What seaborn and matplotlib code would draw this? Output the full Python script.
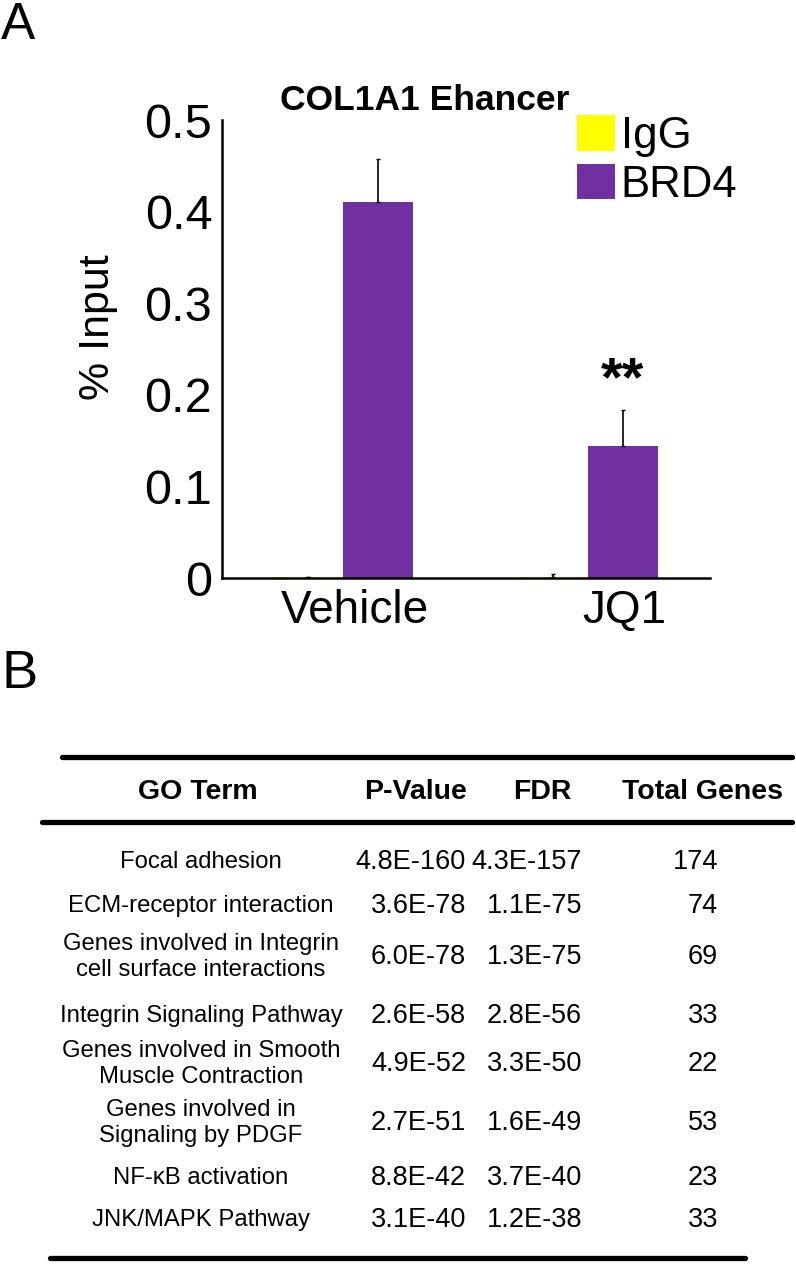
import numpy as np
import pandas as pd
import matplotlib
matplotlib.use('Agg')
import matplotlib.pyplot as plt
from matplotlib.lines import Line2D
import seaborn as sns

# panel A data
groups = ['Vehicle', 'JQ1']
antibodies = ['IgG', 'BRD4']
igg_vals = [0.001, 0.001]
brd4_vals = [0.410, 0.144]
igg_err = [0.0, 0.003]
brd4_err = [0.047, 0.039]
colors = {'IgG': '#ffff00', 'BRD4': '#7030a0'}

# panel B table
header = ['GO Term', 'P-Value', 'FDR', 'Total Genes']
go_terms = ['Focal adhesion', 'ECM-receptor interaction',
            'Genes involved in Integrin\ncell surface interactions',
            'Integrin Signaling Pathway',
            'Genes involved in Smooth\nMuscle Contraction',
            'Genes involved in\nSignaling by PDGF',
            'NF-\u03baB activation', 'JNK/MAPK Pathway']
p_values = ['4.8E-160', '3.6E-78', '6.0E-78', '2.6E-58', '4.9E-52', '2.7E-51', '8.8E-42', '3.1E-40']
fdr_values = ['4.3E-157', '1.1E-75', '1.3E-75', '2.8E-56', '3.3E-50', '1.6E-49', '3.7E-40', '1.2E-38']
total_genes = ['174', '74', '69', '33', '22', '53', '23', '33']

sns.set_style('white')
plt.rcParams['font.family'] = ['Liberation Sans', 'DejaVu Sans']
for k in ['text.color', 'axes.labelcolor', 'xtick.color', 'ytick.color']:
    plt.rcParams[k] = 'black'

W, H = 796, 1264
fig = plt.figure(figsize=(W / 100, H / 100), dpi=100)

df = pd.DataFrame({
    'group': groups * 2,
    'antibody': ['IgG'] * 2 + ['BRD4'] * 2,
    'value': igg_vals + brd4_vals,
    'err': igg_err + brd4_err,
})

ax = fig.add_axes([222 / W, 1 - 578 / H, (710 - 222) / W, (578 - 120) / H])
sns.barplot(data=df, x='group', y='value', hue='antibody', hue_order=antibodies,
            palette=colors, width=0.571, ax=ax, errorbar=None, saturation=1,
            linewidth=0, legend=True)
for patch_group, ab in zip(ax.containers, antibodies):
    sub = df[df['antibody'] == ab]
    xs = [b.get_x() + b.get_width() / 2 for b in patch_group]
    ax.errorbar(xs, sub['value'], yerr=[np.zeros(len(sub)), sub['err']],
                fmt='none', ecolor='black', elinewidth=1.2, capsize=1.5)

ax.set_ylim(0, 0.5)
ax.set_xlim(-0.494, 1.498)
ax.set_yticks([0, 0.1, 0.2, 0.3, 0.4, 0.5])
ax.set_yticklabels(['0', '0.1', '0.2', '0.3', '0.4', '0.5'])
# category labels sit a bit right of the bar pairs in the original
ax.set_xticks([0.05, 1.15])
ax.set_xticklabels(groups)
ax.tick_params(axis='x', labelsize=33, length=0, pad=8)
ax.tick_params(axis='y', labelsize=35, length=0, pad=7)
ax.set_xlabel('')
ax.set_ylabel('% Input', fontsize=31)
ax.yaxis.set_label_coords(-0.213, 0.548)
fig.text(425 / W, 1 - 100 / H, 'COL1A1 Ehancer', fontsize=25.5,
         fontweight='bold', ha='center', va='center')
sns.despine(ax=ax)
for s in ['left', 'bottom']:
    ax.spines[s].set_linewidth(1.8)
    ax.spines[s].set_color('black')
ax.text(1.14, 0.215, '**', ha='center', va='center', fontsize=40, fontweight='bold')
leg = ax.legend(loc='upper left', bbox_to_anchor=(0.728, 1.01), frameon=False,
                fontsize=31.5, handlelength=0.87, handleheight=0.87,
                handletextpad=0.12, labelspacing=0.15, borderaxespad=0,
                borderpad=0)

fig.text(1 / W, 1 - 1 / H, 'A', fontsize=37, va='top', ha='left')
fig.text(1 / W, 1 - 674 / H, 'B', fontsize=39, va='center', ha='left')

# table B
tb = fig.add_axes([0, 0, 1, 1])
tb.set_xlim(0, W)
tb.set_ylim(H, 0)
tb.axis('off')
tb.add_line(Line2D([62, 792], [757, 757], color='black', lw=3.8))
tb.add_line(Line2D([42, 792], [822, 822], color='black', lw=3.8))
tb.add_line(Line2D([50, 745], [1258, 1258], color='black', lw=3.8))

head_x = [198, 416, 542, 702]
for x, h in zip(head_x, header):
    tb.text(x, 792, h, ha='center', va='center', fontsize=20.5,
            fontweight='bold')

row_y = [862, 906, 957, 1016, 1064, 1123, 1178, 1220]
for y, term, p, f, n in zip(row_y, go_terms, p_values, fdr_values, total_genes):
    tb.text(201, y, term, ha='center', va='center', fontsize=17.2,
            linespacing=1.25)
    tb.text(466, y, p, ha='right', va='center', fontsize=19.5)
    tb.text(582, y, f, ha='right', va='center', fontsize=19.5)
    tb.text(718, y, n, ha='right', va='center', fontsize=19.5)

fig.savefig('out.png', dpi=100)
